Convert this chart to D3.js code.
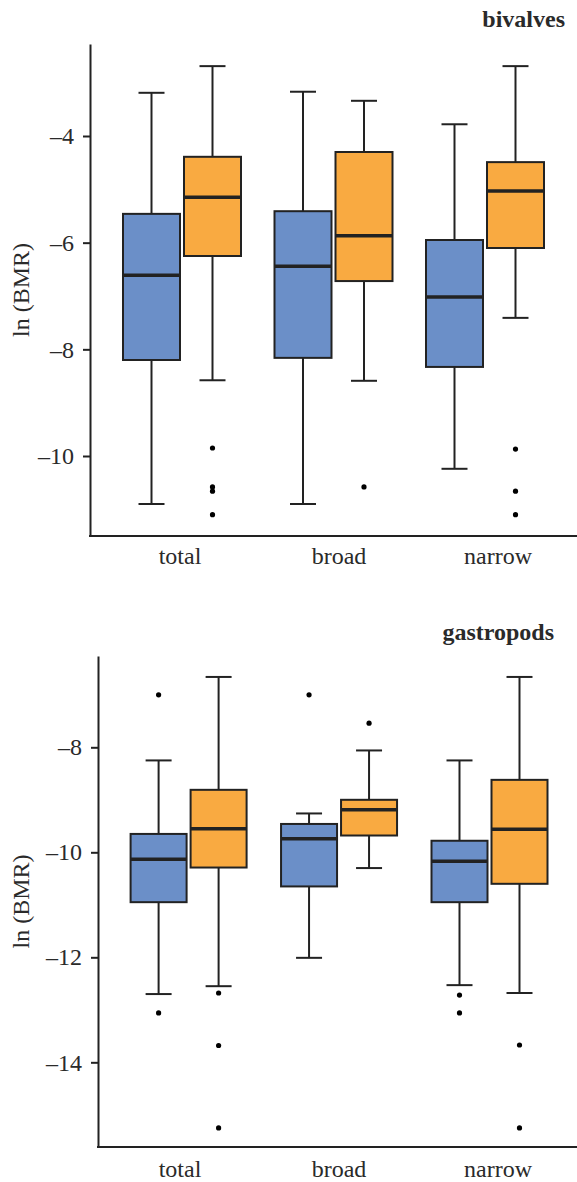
<!DOCTYPE html>
<html>
<head>
<meta charset="utf-8">
<script src="https://cdn.jsdelivr.net/npm/d3@7"></script>
<style>
  html, body { margin: 0; padding: 0; background: #fff; }
  svg { display: block; }
  text { font-family: "Liberation Serif", "DejaVu Serif", serif; fill: #2a2a2a; }
</style>
</head>
<body>
<svg id="chart" width="577" height="1182"></svg>
<script>
// ---------- data ----------
const categories = ["total", "broad", "narrow"];
const seriesNames = ["A", "B"]; // blue, orange
const panelTitles = ["bivalves", "gastropods"];

// stats: [whiskerLow, q1, median, q3, whiskerHigh]
const bivalvesA = [
  [-10.90, -8.20, -6.61, -5.46, -3.19],
  [-10.90, -8.16, -6.44, -5.41, -3.17],
  [-10.24, -8.33, -7.02, -5.95, -3.78]
];
const bivalvesB = [
  [-8.58, -6.25, -5.15, -4.39, -2.69],
  [-8.59, -6.72, -5.87, -4.30, -3.34],
  [-7.41, -6.10, -5.03, -4.49, -2.69]
];
const bivalvesAOutliers = [[], [], []];
const bivalvesBOutliers = [
  [-9.85, -10.58, -10.66, -11.10],
  [-10.58],
  [-9.87, -10.66, -11.10]
];

const gastropodsA = [
  [-12.70, -10.95, -10.13, -9.65, -8.25],
  [-12.01, -10.65, -9.74, -9.46, -9.26],
  [-12.53, -10.95, -10.17, -9.78, -8.25]
];
const gastropodsB = [
  [-12.55, -10.29, -9.55, -8.81, -6.66],
  [-10.30, -9.68, -9.19, -9.00, -8.06],
  [-12.68, -10.60, -9.56, -8.62, -6.66]
];
const gastropodsAOutliers = [
  [-7.00, -13.06],
  [-7.00],
  [-12.72, -13.06]
];
const gastropodsBOutliers = [
  [-12.68, -13.68, -15.25],
  [-7.54],
  [-13.67, -15.25]
];

const bivalvesTicks = [-10, -8, -6, -4];
const gastropodsTicks = [-14, -12, -10, -8];

// ---------- layout ----------
const colors = { A: "#6b8fc8", B: "#f9aa41" };
const strokeCol = "#222";
const W = 577;
const fontSize = "24px";

const panels = [
  {
    title: panelTitles[0], A: bivalvesA, B: bivalvesB,
    AOut: bivalvesAOutliers, BOut: bivalvesBOutliers, ticks: bivalvesTicks,
    axisX: 90, yTop: 44, yBot: 536, domain: [-11.5, -2.275],
    groupRange: [182, 485], labelRange: [180, 498], labelY: 564,
    offset: 30.5, halfW: 28.5, capHalf: 13,
    titleX: 565, titleY: 27
  },
  {
    title: panelTitles[1], A: gastropodsA, B: gastropodsB,
    AOut: gastropodsAOutliers, BOut: gastropodsBOutliers, ticks: gastropodsTicks,
    axisX: 98, yTop: 656, yBot: 1147, domain: [-15.613, -6.261],
    groupRange: [188.6, 489.5], labelRange: [180, 498], labelY: 1177,
    offset: 30, halfW: 28, capHalf: 13,
    titleX: 554, titleY: 640
  }
];

const svg = d3.select("#chart");

panels.forEach(p => {
  const g = svg.append("g");
  const y = d3.scaleLinear().domain(p.domain).range([p.yBot, p.yTop]);
  const x = d3.scalePoint().domain(categories).range(p.groupRange);
  const xl = d3.scalePoint().domain(categories).range(p.labelRange);
  const sx = d3.scalePoint().domain(seriesNames).range([-p.offset, p.offset]);

  // y axis
  const ya = g.append("g")
    .attr("transform", `translate(${p.axisX},0)`)
    .call(d3.axisLeft(y).tickValues(p.ticks).tickSizeOuter(0).tickSizeInner(7).tickPadding(9)
      .tickFormat(d => String(Math.abs(d)).replace(/^/, d < 0 ? "\u2013" : "")));
  ya.select(".domain").attr("stroke", strokeCol).attr("stroke-width", 2);
  ya.selectAll(".tick line").attr("stroke", strokeCol).attr("stroke-width", 2);
  ya.selectAll(".tick text").style("font-size", fontSize)
    .style("font-family", "Liberation Serif, serif").attr("fill", "#2a2a2a");

  // x axis line
  g.append("line")
    .attr("x1", p.axisX - 1).attr("x2", W)
    .attr("y1", p.yBot).attr("y2", p.yBot)
    .attr("stroke", strokeCol).attr("stroke-width", 2);

  // category labels
  g.selectAll(".xlab").data(categories).enter().append("text")
    .attr("x", d => xl(d)).attr("y", p.labelY)
    .attr("text-anchor", "middle")
    .style("font-size", fontSize)
    .text(d => d);

  // y label
  g.append("text")
    .attr("transform", `translate(29,${(p.yTop + p.yBot) / 2}) rotate(-90)`)
    .attr("text-anchor", "middle")
    .style("font-size", fontSize)
    .text("ln (BMR)");

  // title
  g.append("text")
    .attr("x", p.titleX).attr("y", p.titleY)
    .attr("text-anchor", "end")
    .style("font-size", "24px").style("font-weight", "bold")
    .attr("fill", "#111")
    .text(p.title);

  // boxes
  seriesNames.forEach(s => {
    const stats = p[s];
    const outs = p[s + "Out"];
    categories.forEach((c, i) => {
      const [lo, q1, med, q3, hi] = stats[i];
      const cx = x(c) + sx(s);
      const bg = g.append("g");
      // whiskers
      bg.append("line").attr("x1", cx).attr("x2", cx).attr("y1", y(hi)).attr("y2", y(q3))
        .attr("stroke", strokeCol).attr("stroke-width", 2);
      bg.append("line").attr("x1", cx).attr("x2", cx).attr("y1", y(q1)).attr("y2", y(lo))
        .attr("stroke", strokeCol).attr("stroke-width", 2);
      bg.append("line").attr("x1", cx - p.capHalf).attr("x2", cx + p.capHalf).attr("y1", y(hi)).attr("y2", y(hi))
        .attr("stroke", strokeCol).attr("stroke-width", 2);
      bg.append("line").attr("x1", cx - p.capHalf).attr("x2", cx + p.capHalf).attr("y1", y(lo)).attr("y2", y(lo))
        .attr("stroke", strokeCol).attr("stroke-width", 2);
      // box
      bg.append("rect")
        .attr("x", cx - p.halfW).attr("width", 2 * p.halfW)
        .attr("y", y(q3)).attr("height", y(q1) - y(q3))
        .attr("fill", colors[s]).attr("stroke", strokeCol).attr("stroke-width", 2);
      // median
      bg.append("line").attr("x1", cx - p.halfW).attr("x2", cx + p.halfW).attr("y1", y(med)).attr("y2", y(med))
        .attr("stroke", strokeCol).attr("stroke-width", 3.5);
      // outliers
      bg.selectAll("circle").data(outs[i]).enter().append("circle")
        .attr("cx", cx).attr("cy", d => y(d)).attr("r", 2.6).attr("fill", "#000");
    });
  });
});
</script>
</body>
</html>
